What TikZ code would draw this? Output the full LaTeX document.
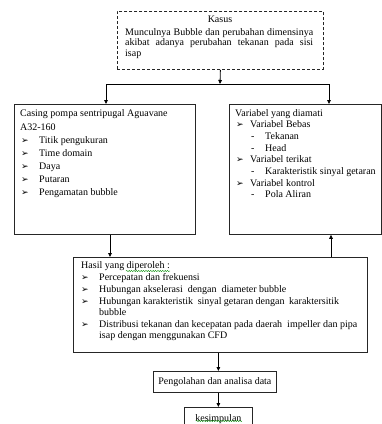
\documentclass[tikz,border=0pt]{standalone}
\usepackage{fontspec}
\setmainfont{Liberation Serif}
\newfontfamily\symfont{DejaVu Sans}
\usetikzlibrary{arrows.meta,decorations.pathmorphing}

\newcommand{\bul}{{\symfont\fontsize{9}{9}\selectfont ➢}}

\begin{document}
\begin{tikzpicture}[x=1pt,y=-1pt,
    box/.style={draw=black!85,line width=0.8pt,anchor=north west,inner sep=0pt,font=\fontsize{10}{11.5}\selectfont},
    txt/.style={anchor=base west,inner sep=0pt,font=\fontsize{10}{11.5}\selectfont},
    arc/.style={draw,line width=0.8pt,-{Triangle[length=4pt,width=3.6pt]}},
    wavy/.style={draw=green!55!black,line width=0.4pt,decorate,decoration={snake,amplitude=0.6pt,segment length=2.4pt}}]

    \useasboundingbox (0,0) rectangle (382,424);

    % kotak
    \node[box,dash pattern=on 3pt off 2pt,minimum width=206pt,minimum height=58pt] (kasus) at (117,11) {};
    \node[box,minimum width=181pt,minimum height=130pt] (casing) at (14,104) {};
    \node[box,minimum width=152pt,minimum height=130pt] (var) at (229,104) {};
    \node[box,minimum width=294pt,minimum height=95pt] (hasil) at (73,257) {};
    \node[box,minimum width=123pt,minimum height=21pt] (olah) at (153,371) {Pengolahan dan analisa data};
    \node[box,minimum width=68pt,minimum height=24pt] (simpul) at (184,407) {kesimpulan};

    % kasus
    \node[txt,anchor=base] (kasus0) at (220,22) {Kasus};
    \node[txt] (kasus1) at (125,35) {\makebox[188pt][s]{Munculnya Bubble dan perubahan dimensinya}};
    \node[txt] (kasus2) at (125,45.5) {\makebox[188pt][s]{akibat adanya perubahan tekanan pada sisi}};
    \node[txt] (kasus3) at (125,56) {isap};

    % casing
    \node[txt] (c0) at (20,116) {Casing pompa sentripugal Aguavane};
    \node[txt] (ca) at (20,130) {A32-160};
    \foreach [count=\i] \t in {Titik pengukuran,Time domain,Daya,Putaran,Pengamatan bubble}{
        \node[txt] (cb\i) at (21,143+13.2*\i-13.2) {\bul};
        \node[txt] (c\i) at (39,143+13.2*\i-13.2) {\t};
    }

    % variabel
    \node[txt] (v0) at (235,116) {Variabel yang diamati};
    \foreach [count=\i] \lvl/\t in {1/Variabel Bebas,2/Tekanan,2/Head,1/Variabel terikat,2/Karakteristik sinyal getaran,1/Variabel kontrol,2/Pola Aliran}{
        \ifnum\lvl=1
            \node[txt] (vb\i) at (236,116+11.7*\i) {\bul};
            \node[txt] (v\i) at (250,116+11.7*\i) {\t};
        \else
            \node[txt] (vb\i) at (251,116+11.7*\i) {-};
            \node[txt] (v\i) at (265,116+11.7*\i) {\t};
        \fi
    }

    % hasil
    \node[txt] (h0) at (81,268) {Hasil yang diperoleh :};
    \foreach [count=\i] \y/\t in {280/{Percepatan dan frekuensi},292/{Hubungan akselerasi \ dengan \ diameter bubble},304/{\makebox[240pt][s]{Hubungan karakteristik \ sinyal getaran dengan \ karaktersitik}},327/{\makebox[258pt][s]{Distribusi tekanan dan kecepatan pada daerah \ impeller dan pipa}}}{
        \node[txt] (hb\i) at (81,\y) {\bul};
        \node[txt] (h\i) at (99,\y) {\t};
    }
    \node[txt] (h3b) at (99,315) {bubble};
    \node[txt] (h4b) at (99,338) {isap dengan menggunakan CFD};
    \draw[wavy] (126,271) -- (170,271);
    \draw[wavy] (196,421) -- (242,421);

    % panah
    \coordinate (cabang) at (220,84);
    \coordinate (kiri) at (106,84);
    \coordinate (kanan) at (329,84);
    \coordinate (turun) at (110,0);
    \coordinate (naik) at (331,0);
    \draw[arc] (kasus.south) -- (cabang);
    \draw[line width=0.8pt] (kiri) -- (kanan);
    \draw[arc] (kiri) -- (kiri |- casing.north);
    \draw[arc] (kanan) -- (kanan |- var.north);
    \draw[arc] (casing.south -| turun) -- (hasil.north -| turun);
    \draw[arc] (hasil.north -| naik) -- (var.south -| naik);
    \draw[arc] (hasil.south -| simpul.north) -- (olah.north -| simpul.north);
    \draw[arc] (olah.south -| simpul.north) -- (simpul.north);
\end{tikzpicture}
\end{document}
